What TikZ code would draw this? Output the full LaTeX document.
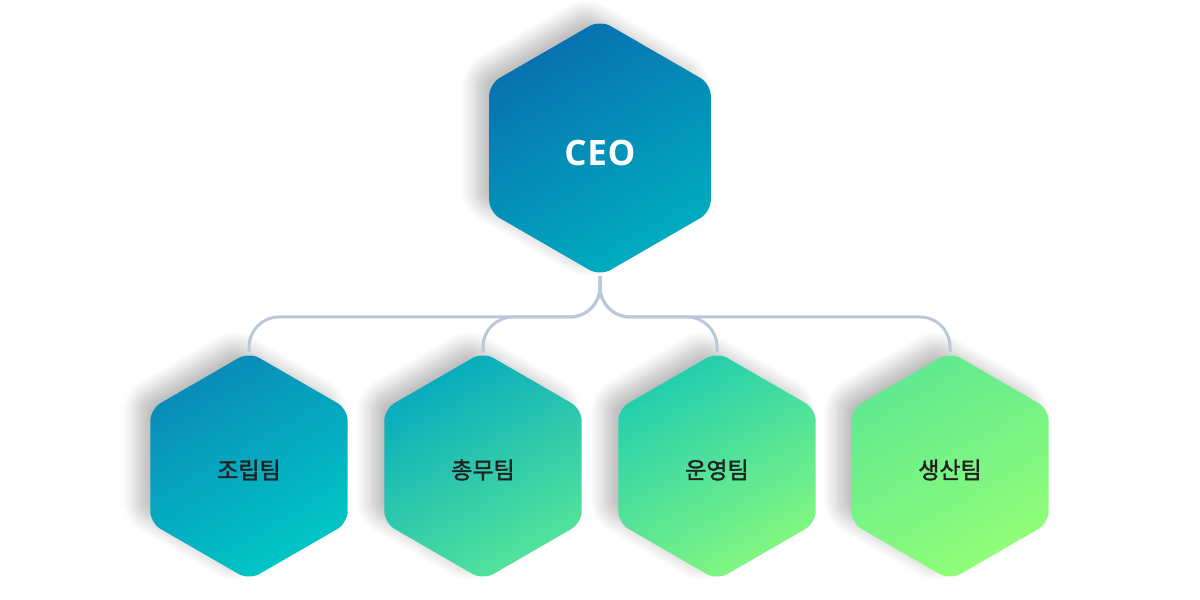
\documentclass[tikz,border=0pt]{standalone}
\usepackage{fontspec}
\usetikzlibrary{shapes.geometric,shadows.blur}
\newfontfamily\krfont[FakeBold=1.6]{Noto Sans CJK KR}
\newfontfamily\ceofont[LetterSpace=2]{Open Sans}
\definecolor{ceoA}{HTML}{0870B0}
\definecolor{ceoB}{HTML}{00AEC0}
\definecolor{aA}{HTML}{0A8AB8}
\definecolor{aB}{HTML}{00C8C6}
\definecolor{bA}{HTML}{05AABF}
\definecolor{bM}{HTML}{00C4C2}
\definecolor{bB}{HTML}{55E69A}
\definecolor{cA}{HTML}{20CDB0}
\definecolor{cB}{HTML}{85F880}
\definecolor{dA}{HTML}{60E890}
\definecolor{dB}{HTML}{92FF78}
\definecolor{connc}{HTML}{BCC7DA}
\definecolor{labc}{HTML}{222222}
\tikzset{
  hexbase/.style={regular polygon, regular polygon sides=6, shape border rotate=30,
    inner sep=0pt, outer sep=0pt, rounded corners=6pt,
    blur shadow={shadow xshift=-7pt, shadow yshift=5pt, shadow blur radius=7pt, shadow opacity=25, shadow blur steps=12}},
  hexceo/.style={hexbase, minimum size=128pt},
  hexteam/.style={hexbase, minimum size=114pt},
  ceotext/.style={font=\ceofont\bfseries\fontsize{17.5}{20}\selectfont, text=white, inner sep=0pt},
  teamtext/.style={font=\krfont\fontsize{11.5}{13}\selectfont, text=labc, inner sep=0pt},
  conn/.style={draw=connc, line width=1.5pt, rounded corners=15pt}
}
\begin{document}
\begin{tikzpicture}[x=0.5pt,y=0.5pt]
\useasboundingbox (0,0) rectangle (1200,600);
\node[hexceo, top color=ceoA, bottom color=ceoB, shading angle=30] (ceo) at (600,452) {};
\node[hexteam, top color=aA, bottom color=aB, shading angle=30] (t1) at (249,134) {};
\node[hexteam, top color=bA, middle color=bM, bottom color=bB, shading angle=30] (t2) at (483,134) {};
\node[hexteam, top color=cA, bottom color=cB, shading angle=30] (t3) at (717,134) {};
\node[hexteam, top color=dA, bottom color=dB, shading angle=30] (t4) at (950,134) {};
\node[ceotext] (ceol) at ([yshift=-2.5pt]ceo.center) {CEO};
\node[teamtext] (t1l) at ([yshift=-2pt]t1.center) {조립팀};
\node[teamtext] (t2l) at ([yshift=-2pt]t2.center) {총무팀};
\node[teamtext] (t3l) at ([yshift=-2pt]t3.center) {운영팀};
\node[teamtext] (t4l) at ([yshift=-2pt]t4.center) {생산팀};
\coordinate (hub) at (600,283);
\draw[conn] (ceo.south) -- (hub) -| (t1.north);
\draw[conn] (ceo.south) -- (hub) -| (t2.north);
\draw[conn] (ceo.south) -- (hub) -| (t3.north);
\draw[conn] (ceo.south) -- (hub) -| (t4.north);
\end{tikzpicture}
\end{document}
